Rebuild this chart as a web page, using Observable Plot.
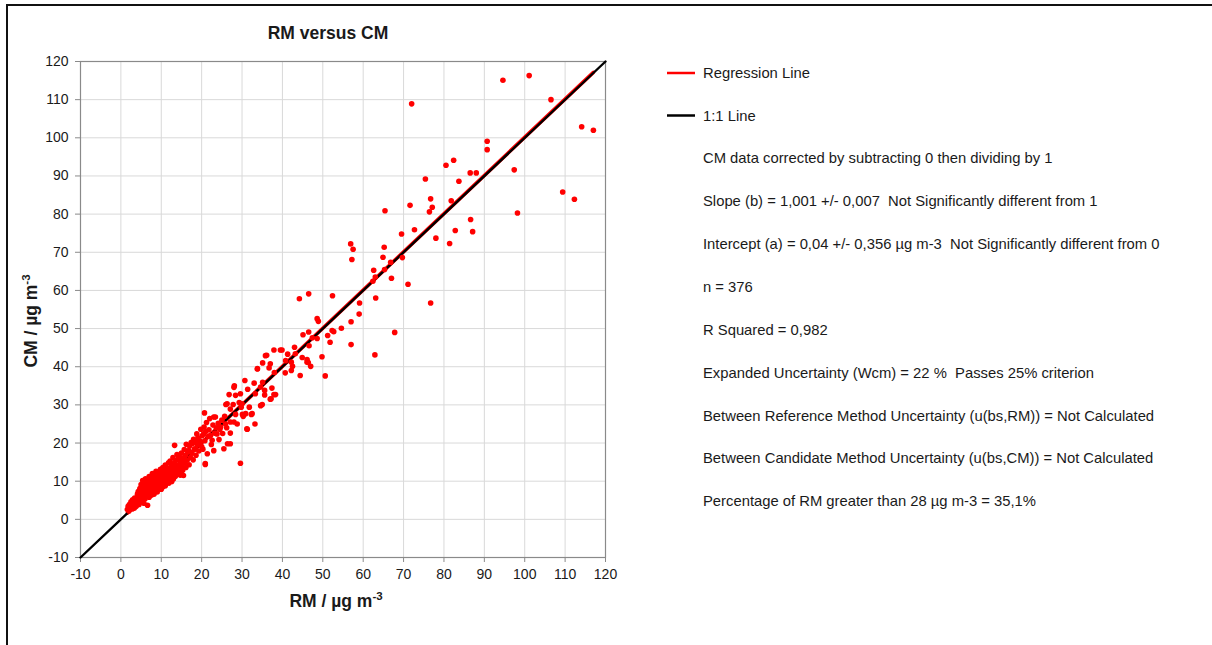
<!DOCTYPE html>
<html>
<head>
<meta charset="utf-8">
<script src="https://cdn.jsdelivr.net/npm/d3@7"></script>
<script src="https://cdn.jsdelivr.net/npm/@observablehq/plot@0.6"></script>
<style>
  html, body { margin: 0; padding: 0; background: #fff; }
  #wrap { position: relative; width: 1212px; height: 645px; overflow: hidden; }
  #frame { position: absolute; left: 6px; top: 4px; width: 1300px; height: 700px;
           border-top: 2px solid #111; border-left: 2px solid #111; pointer-events: none; }
  #chart { position: absolute; left: 0; top: 0; }
</style>
</head>
<body>
<div id="wrap"><div id="chart"></div><div id="frame"></div></div>
<script>
// ---- data ----
const xTicks = [-10, 0, 10, 20, 30, 40, 50, 60, 70, 80, 90, 100, 110, 120];
const yTicks = [-10, 0, 10, 20, 30, 40, 50, 60, 70, 80, 90, 100, 110, 120];

// dense low-concentration cluster [RM, CM]
const clusterLow = [
 [1.6,2.6],[1.8,3.4],[2.0,2.2],[2.1,3.9],[2.3,2.9],[2.5,4.6],[2.6,3.3],[2.8,2.7],[2.9,5.1],[3.0,3.8],[3.1,4.4],[3.3,2.9],[3.4,5.6],[3.6,4.0],[3.8,3.4],
 [4.0,5.2],[4.1,6.6],[4.2,4.3],[4.3,7.3],[4.4,5.8],[4.5,3.9],[4.6,6.9],[4.7,8.1],[4.8,5.0],[4.9,6.2],[5.0,9.1],[5.0,7.4],[5.1,4.6],[5.2,8.4],[5.3,5.9],[5.4,10.2],[5.5,6.8],[5.6,7.9],[5.7,4.2],[5.8,9.6],[5.9,6.3],[6.0,8.8],[6.0,5.4],[6.1,10.6],[6.2,7.2],[6.3,9.3],[6.4,6.1],[6.5,8.0],[6.6,3.7],[6.7,10.1],
 [6.8,7.6],[6.9,9.0],[7.0,5.8],[7.0,11.2],[7.1,8.5],[7.2,6.9],[7.3,9.8],[7.4,7.9],[7.5,10.7],[7.6,6.4],[7.7,8.9],[7.8,12.0],[7.9,7.3],[8.0,9.5],[8.0,10.8],[8.1,8.2],[8.2,6.6],[8.3,11.4],[8.4,9.0],[8.5,7.7],[8.6,10.2],[8.7,12.6],[8.8,8.5],[8.9,9.7],[9.0,11.0],[9.0,7.2],[9.1,10.4],[9.2,8.8],[9.3,12.3],[9.4,9.4],[9.5,11.7],[9.6,8.1],[9.7,10.0],[9.8,13.1],[9.9,9.2],[10.0,10.9],[10.0,7.9],[10.1,12.0],[10.2,9.6],[10.3,11.3],[10.4,13.6],[10.5,8.6],[10.6,10.5],[10.7,12.4],[10.8,9.9],[10.9,11.7],[11.0,14.2],[11.0,8.8],[11.1,10.8],[11.2,12.9]
];
const clusterMid = [
 [11.3,9.7],[11.4,11.5],[11.5,13.4],[11.6,10.3],[11.7,12.1],[11.8,14.8],[11.9,9.5],[12.0,11.8],[12.0,13.0],[12.1,10.7],[12.2,15.3],[12.3,12.4],[12.4,11.2],[12.5,14.0],[12.6,9.9],[12.7,13.1],[12.8,11.6],[12.9,16.2],[13.0,12.7],[13.0,10.6],[13.1,14.6],[13.2,12.0],[13.3,19.4],[13.4,13.5],[13.5,11.3],[13.6,15.4],[13.7,12.8],[13.8,14.1],[13.9,17.0],[14.0,13.2],[14.1,11.9],[14.2,15.8],[14.3,13.9],[14.4,12.4],[14.5,16.4],[14.6,14.5],[14.7,11.6],[14.8,15.1],[14.9,13.4],[15.0,17.4],[15.1,14.2],[15.2,15.6],[15.3,12.9],[15.5,11.5],[15.6,16.1],
 [15.7,18.3],[15.8,14.8],[16.0,16.8],[16.1,13.6],[16.2,19.7],[16.4,15.5],[16.6,17.6],[16.8,18.0],[16.9,14.3],[17.0,19.2],[17.2,16.2],[17.4,20.1],[17.6,17.3],[17.7,19.8],[17.9,15.6],[18.0,21.0],[18.2,18.4],[18.4,20.3],[18.5,18.5],[18.6,16.8],[18.8,22.4],[19.0,19.5],[19.1,21.3],[19.3,17.9],[19.5,20.6],[19.7,20.2],[19.8,23.6],[20.0,19.1],[20.1,21.9],[20.3,18.4],[20.5,22.4],[20.6,24.2],[20.8,20.6],[20.9,14.4],[20.9,14.6],
 [20.7,27.9],[21.0,23.0],[21.2,25.4],[21.4,17.2],[21.6,21.7],[21.8,23.5],[22.0,26.4],[22.2,22.0],[22.4,19.6],[22.6,20.7],[22.8,24.7],[23.0,18.0],[23.0,26.8],[23.2,22.6],[23.4,26.8],[23.6,24.0],[23.8,22.4],[24.1,25.2],[24.3,20.9],[24.5,23.6],[24.7,24.2],[25.0,26.0],[25.2,22.5],[25.5,18.5],[25.7,27.0],[25.9,25.0],[26.0,30.1],[26.2,24.0],[26.3,30.3],[26.4,19.8]
];
const clusterHigh = [
 [26.8,32.7],[27.1,19.8],[27.1,25.5],[27.1,28.9],[27.1,22.6],[27.8,30.1],[28.0,34.6],[28.0,25.5],[28.1,35.0],[28.4,32.5],[28.4,27.5],[28.8,25.0],[29.3,30.6],[29.6,32.9],[29.6,14.7],[29.8,29.4],[30.0,30.3],[30.1,27.5],[30.3,27.0],[30.7,36.4],[30.9,27.7],[31.2,23.7],[31.3,23.6],[31.4,34.1],[31.8,29.4],[32.3,27.5],[32.5,27.7],[33.0,35.7],[33.2,25.0],[33.3,32.9],[33.8,39.4],[34.6,34.7],[34.6,29.8],[35.0,30.1],[35.1,41.0],[35.1,35.9],[35.6,33.8],[35.6,32.6],[36.1,43.0],[36.7,39.7],[37.0,31.5],[37.2,31.6],[37.4,34.4],[37.9,44.4],[37.9,32.7],[38.0,38.5],[38.3,32.7],[39.9,44.4],[35.8,42.9],[37.0,40.8],[33.8,39.5]
];
const upperPoints = [
 [94.6,115.1],[101.1,116.3],[106.5,110.0],[114.1,102.9],[117.0,102.0],[72.0,108.9],[90.7,99.1],[90.7,96.9],[80.5,92.8],[82.4,94.1],[86.5,90.8],[88.0,90.8],[97.4,91.6],[75.4,89.2],[83.7,88.6],[109.4,85.8],[112.3,83.9],[98.2,80.3],[71.6,82.3],[76.7,84.0],[77.1,81.8],[76.4,80.6],[81.8,83.5],[65.4,80.9],[86.6,78.6],[87.1,75.4],[82.8,75.7],[72.7,75.9],[69.5,74.8],[78.0,73.7],[81.4,72.3],[56.9,72.2],[57.5,70.8],[57.2,68.1],[65.2,71.3],[64.9,68.7],[66.8,67.4],[69.7,68.6],[65.3,65.5],[62.6,65.3],[63.0,63.5],[62.4,62.4],[67.0,63.2],[71.1,61.6],[63.1,58.0],[76.7,56.7],[67.8,49.0],[62.9,43.1],[59.1,56.7],[59.0,53.8],[57.0,51.8],[57.0,45.8],[52.4,58.6],[44.2,57.8],[46.5,59.1],[48.6,52.6],[48.9,51.9],[54.6,50.1],[52.3,49.5],[52.7,49.2],[51.2,48.2],[51.8,46.4],[46.5,49.1],[45.1,48.4],[47.4,47.6],[48.6,47.4],[46.6,45.5],[43.0,45.1],[49.8,42.6],[50.6,37.6],[44.4,37.7],[39.5,44.4],[41.3,43.3],[43.2,43.4],[44.9,42.4],[46.1,41.9],[46.4,41.1],[47.0,40.1],[40.8,41.6],[42.2,41.2],[42.5,40.1],[42.2,39.0],[40.7,38.4],[46.1,41.2]
];

const slope = 1.001, intercept = 0.04;
const regressionRange = [1.6, 117];
const oneToOneRange = [-10, 120];

const legendItems = [
  {label: "Regression Line", color: "#ff0000"},
  {label: "1:1 Line", color: "#000000"}
];
const statsLines = [
  "CM data corrected by subtracting 0 then dividing by 1",
  "Slope (b) = 1,001 +/- 0,007  Not Significantly different from 1",
  "Intercept (a) = 0,04 +/- 0,356 \u00b5g m-3  Not Significantly different from 0",
  "n = 376",
  "R Squared = 0,982",
  "Expanded Uncertainty (Wcm) = 22 %  Passes 25% criterion",
  "Between Reference Method Uncertainty (u(bs,RM)) = Not Calculated",
  "Between Candidate Method Uncertainty (u(bs,CM)) = Not Calculated",
  "Percentage of RM greater than 28 \u00b5g m-3 = 35,1%"
];

// ---- build ----
const points = [...clusterLow, ...clusterMid, ...clusterHigh, ...upperPoints].map(([rm, cm]) => ({rm, cm}));
const regLine = regressionRange.map(x => ({x, y: intercept + slope * x}));
const idLine = oneToOneRange.map(x => ({x, y: x}));

const font = "'Liberation Sans', Arial, sans-serif";
const W = 1212, H = 645;
const fmt = d => String(d);
const chart = Plot.plot({
  width: W, height: H,
  marginLeft: 80, marginRight: W - 605, marginTop: 61, marginBottom: H - 557,
  style: {fontFamily: font, fontSize: "14px", color: "#1a1a1a", background: "transparent", overflow: "visible"},
  x: {domain: [-10, 120]},
  y: {domain: [-10, 120]},
  marks: [
    Plot.gridX(xTicks, {stroke: "#d9d9d9", strokeOpacity: 1, strokeWidth: 1}),
    Plot.gridY(yTicks, {stroke: "#d9d9d9", strokeOpacity: 1, strokeWidth: 1}),
    Plot.frame({stroke: "#8a8a8a", strokeWidth: 1.2}),
    Plot.axisX(xTicks, {tickSize: 5, tickPadding: 7, label: null, tickFormat: fmt, stroke: "#8a8a8a", fill: "#1a1a1a", fontSize: 14}),
    Plot.axisY(yTicks, {tickSize: 5, tickPadding: 7, label: null, tickFormat: fmt, stroke: "#8a8a8a", fill: "#1a1a1a", fontSize: 14}),
    Plot.line(regLine, {x: "x", y: "y", stroke: "#ff0000", strokeWidth: 3.6}),
    Plot.line(idLine, {x: "x", y: "y", stroke: "#000", strokeWidth: 2.4}),
    Plot.dot(points, {x: "rm", y: "cm", r: 2.8, fill: "#ff0000", stroke: "none"})
  ]
});
document.getElementById("chart").appendChild(chart);

const svg = d3.select(chart);
// title
svg.append("text").attr("x", 328).attr("y", 39).attr("text-anchor", "middle")
  .attr("font-family", font).attr("font-size", 17.5).attr("font-weight", "bold").attr("fill", "#1a1a1a")
  .text("RM versus CM");
// x label
const xl = svg.append("text").attr("x", 336).attr("y", 607).attr("text-anchor", "middle")
  .attr("font-family", font).attr("font-size", 17.5).attr("font-weight", "bold").attr("fill", "#1a1a1a");
xl.append("tspan").text("RM / \u00b5g m");
xl.append("tspan").attr("dy", -7).attr("font-size", 11.5).text("-3");
// y label
const yl = svg.append("text").attr("transform", "translate(37,321) rotate(-90)").attr("text-anchor", "middle")
  .attr("font-family", font).attr("font-size", 17.5).attr("font-weight", "bold").attr("fill", "#1a1a1a");
yl.append("tspan").text("CM / \u00b5g m");
yl.append("tspan").attr("dy", -7).attr("font-size", 11.5).text("-3");

// legend
legendItems.forEach((d, i) => {
  const y = 73 + i * 42.5;
  svg.append("line").attr("x1", 667).attr("x2", 695).attr("y1", y).attr("y2", y)
    .attr("stroke", d.color).attr("stroke-width", 2.5);
  svg.append("text").attr("x", 703).attr("y", y).attr("dy", "0.35em").attr("text-anchor", "start")
    .attr("font-family", font).attr("font-size", 14.8).attr("fill", "#1a1a1a").text(d.label);
});
statsLines.forEach((t, i) => {
  svg.append("text").attr("x", 703).attr("y", 158 + i * 42.9).attr("dy", "0.35em").attr("text-anchor", "start")
    .attr("font-family", font).attr("font-size", 14.8).attr("fill", "#1a1a1a")
    .style("white-space", "pre").text(t);
});
</script>
</body>
</html>
